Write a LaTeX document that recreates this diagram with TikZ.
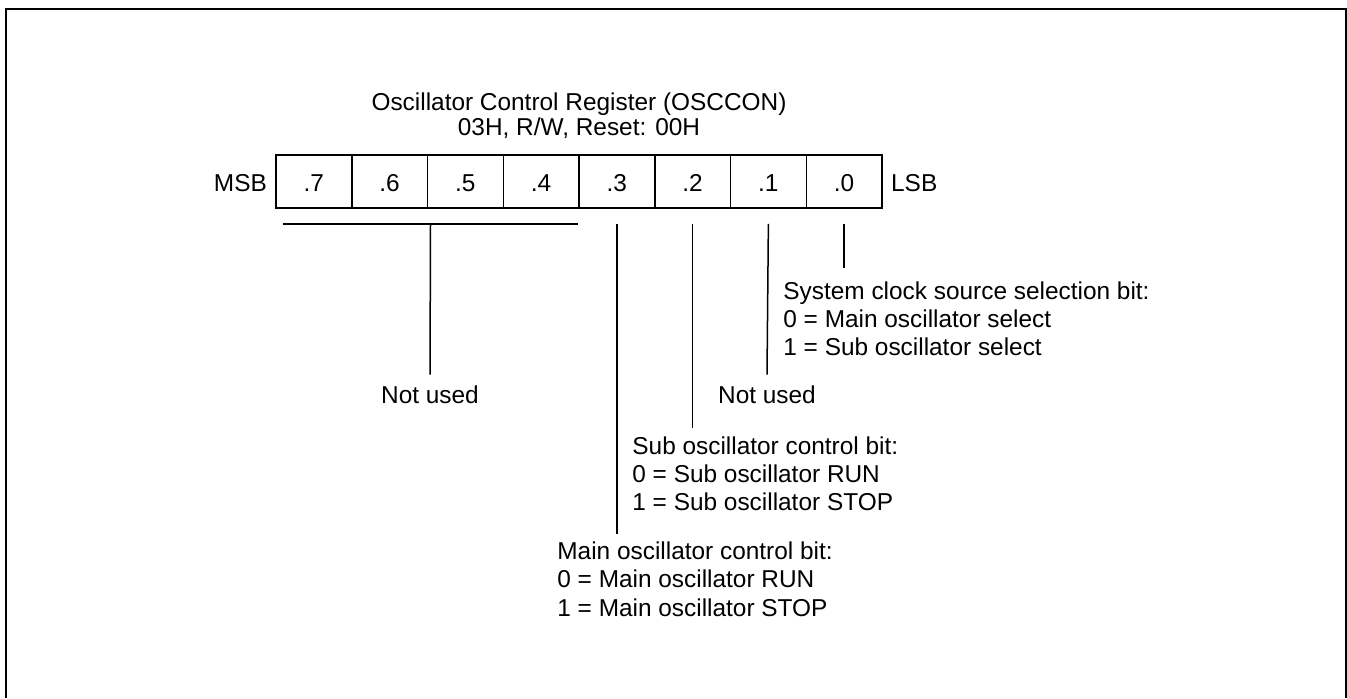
\documentclass[tikz,border=0pt]{standalone}
\usepackage{fontspec}
\setmainfont{Liberation Sans}
\usetikzlibrary{positioning,calc}

\begin{document}
\begin{tikzpicture}[
    x=0.5pt, y=-0.5pt,
    txt/.style={font=\fontsize{12.2}{14.1}\selectfont, inner sep=0pt},
    rowtxt/.style={txt, text height=10.2pt, text depth=0pt},
    bitcell/.style={rowtxt, draw, line width=0.75pt, minimum width=37.875pt, minimum height=26.5pt},
    desc/.style={txt, align=left, anchor=north west},
    wire/.style={line width=0.75pt}
]
    \useasboundingbox (0,0) rectangle (1347,698);
    % --- Outer frame (bottom edge cut off) ---
    \draw[line width=1pt] (6,698) -- (6,9) -- (1346,9) -- (1346,698);

    % --- Register cells ---
    \foreach \b in {7,...,0}
        \node[bitcell] (b\b) at ({276+(7.5-\b)*75.75},181.5) {.\b};
    \node[rowtxt, left=4pt of b7] (msb) {MSB};
    \node[rowtxt, right=4pt of b0] (lsb) {LSB};
    \node[txt, font=\fontsize{12.2}{12.3}\selectfont, align=center, anchor=north] (title) at (579,92.5)
        {Oscillator Control Register (OSCCON)\\03H, R/W, Reset: 00H};

    % --- Descriptions ---
    \node[txt, anchor=center] (nu1) at (430,395) {Not used};
    \node[txt, anchor=center] (nu2) at (767,395) {Not used};
    \node[desc] (sys) at (783,281) {System clock source selection bit:\\0 = Main oscillator select\\1 = Sub oscillator select};
    \node[desc] (sub) at (632,436.5) {Sub oscillator control bit:\\0 = Sub oscillator RUN\\1 = Sub oscillator STOP};
    \node[desc] (main) at (557,541.5) {Main oscillator control bit:\\0 = Main oscillator RUN\\1 = Main oscillator STOP};

    % --- Leader lines ---
    \coordinate (nl) at ($(b7.south west)+(8,15)$);
    \coordinate (nr) at ($(b4.south east)+(-2,15)$);
    \draw[wire] (nl) -- (nr);
    \draw[wire] ($(nl)!0.5!(nr)$) -- ($(nu1.north)+(0,-11)$);
    \draw[wire] ($(b3.south)+(0,15)$) -- ($(b3.south |- main.north)+(0,-8)$);
    \draw[wire] ($(b2.south)+(0,15)$) -- ($(b2.south |- sub.north)+(0,-9)$);
    \draw[wire] ($(b1.south)+(0,15)$) -- ($(nu2.north)+(0,-11)$);
    \draw[wire] ($(b0.south)+(0,15)$) -- ($(b0.south |- sys.north)+(0,-13)$);
\end{tikzpicture}
\end{document}
